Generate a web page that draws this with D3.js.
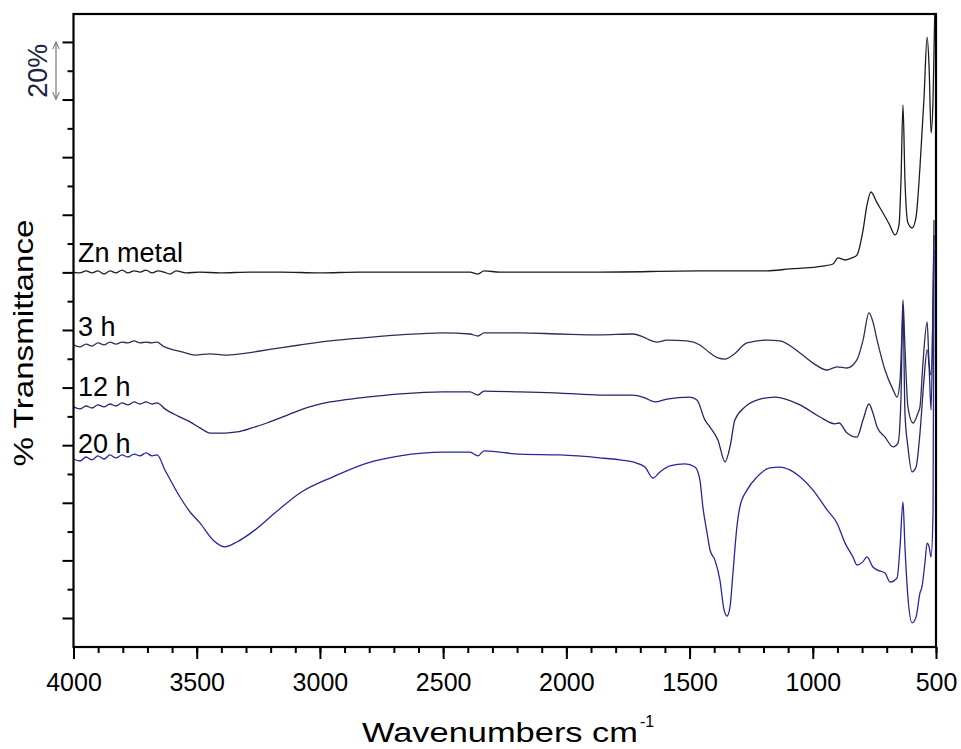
<!DOCTYPE html>
<html>
<head>
<meta charset="utf-8">
<script src="https://cdn.jsdelivr.net/npm/d3@7"></script>
<style>
  body { margin: 0; background: #fff; }
  text { font-family: "Liberation Sans", Arial, sans-serif; }
</style>
</head>
<body>
<svg></svg>
<script>
// FTIR spectra, offset % transmittance
let znWn = [4000,3974,3949,3925,3901,3876,3852,3828,3803,3779,3754,3730,3706,3681,3657,3633,3608,3584,3543,3487,
            3406,3284,3162,3000,2837,2675,2513,2391,2359,2334,2270,2107,1864,1458,1186,1093,983,918,898,869,
            841,821,796,780,764,739,715,690,666,650,642,634,626,614,597,581,565,549,536,528,520,512,504];
let znT = [120.1,119.8,120.5,119.8,120.5,119.4,120.5,119.8,120.8,119.8,120.5,120.1,120.8,119.8,120.5,120.1,119.4,120.5,119.8,120.1,
           119.8,120.1,120.1,119.8,120.1,120.1,120.1,120.1,119.4,120.5,120.1,120.1,120.1,120.5,120.5,121.2,121.9,122.9,125.0,124.3,
           125.0,126.0,134.7,143.4,147.9,144.1,140.6,136.8,133.0,136.5,152.1,178.1,152.1,137.2,135.4,139.2,156.6,179.9,201.7,191.3,168.4,179.9,214.6];

let h3Wn = [4000,3974,3949,3925,3901,3876,3852,3828,3803,3779,3754,3730,3706,3681,3661,3637,3608,3576,3543,3507,
            3446,3385,3324,3243,3162,3081,2959,2837,2675,2501,2391,2359,2334,2188,2026,1864,1730,1689,1653,1632,
            1592,1511,1458,1417,1385,1356,1324,1267,1186,1133,1052,999,942,902,861,821,796,772,756,739,
            707,674,658,646,638,634,626,614,593,573,565,553,536,528,520,512,508];
let h3T = [94.8,94.1,95.1,94.4,95.5,94.8,95.8,95.1,95.8,95.5,96.2,95.5,95.8,95.5,95.8,94.4,93.4,92.7,92.0,91.3,
           91.7,91.3,91.7,92.7,93.8,94.8,96.2,97.2,98.3,99.0,98.6,97.9,99.0,99.0,98.6,98.3,98.6,97.6,96.2,95.8,
           96.5,96.2,94.8,92.0,90.3,89.9,91.3,95.5,96.5,96.2,92.0,88.5,86.1,87.2,86.8,89.6,96.5,105.9,102.8,96.5,
           86.1,79.2,76.7,82.6,100.0,110.4,94.1,73.3,67.7,71.2,73.3,88.5,102.8,88.5,84.4,110.4,138.2];

let h12Wn = [4000,3974,3949,3925,3901,3876,3852,3828,3803,3779,3754,3730,3706,3681,3661,3629,3576,3527,3487,3446,
             3385,3337,3276,3215,3142,3081,2959,2837,2675,2501,2391,2359,2334,2188,2026,1864,1730,1681,1640,1592,
             1499,1470,1438,1417,1385,1356,1336,1316,1275,1214,1153,1052,971,910,893,861,821,796,772,756,
             739,707,674,654,642,634,626,614,597,581,565,549,536,528,520,512,508];
let h12T = [73.3,72.6,73.6,72.9,74.0,73.3,74.3,73.6,74.7,74.0,75.0,74.3,75.0,74.3,74.7,72.6,70.1,68.1,66.0,64.2,
            64.2,64.6,66.0,67.7,70.1,72.2,75.0,76.4,77.8,78.5,78.5,77.4,78.8,78.5,78.1,77.4,77.4,76.4,75.0,76.0,
            76.7,75.7,68.8,66.3,61.8,54.2,59.4,68.8,73.3,76.0,76.7,74.0,69.8,67.4,67.7,64.2,62.8,68.8,74.3,71.2,
            66.3,62.8,59.4,60.8,76.7,108.7,71.2,59.4,50.7,52.4,64.2,82.6,93.1,87.2,72.2,110.4,133.0];

let h20Wn = [4000,3974,3949,3925,3901,3876,3852,3828,3803,3779,3754,3730,3706,3681,3661,3629,3568,3527,3487,3434,
             3385,3337,3263,3182,3081,2947,2809,2675,2501,2391,2359,2334,2188,2026,1864,1782,1730,1681,1649,1620,
             1580,1519,1478,1458,1446,1429,1417,1397,1377,1360,1348,1336,1324,1308,1296,1267,1226,1174,1133,1093,
             1052,999,942,902,869,837,821,798,780,756,739,707,686,658,646,634,626,614,597,581,
             565,557,545,536,528,520,512,508];
let h20T = [55.2,54.5,55.9,54.9,56.3,55.2,56.6,55.6,56.6,55.9,56.9,56.3,57.3,56.3,56.6,51.4,42.0,36.8,33.0,27.1,
            24.7,26.4,30.6,36.5,43.4,49.0,53.8,56.3,57.6,57.6,56.3,58.0,56.9,56.6,55.6,54.9,54.2,52.4,48.6,50.7,
            52.8,53.5,52.4,47.9,38.5,29.5,23.6,20.1,13.2,2.8,0.7,3.8,15.6,31.6,38.5,44.4,49.0,52.1,52.4,51.4,
            49.0,44.4,37.5,33.0,26.0,21.2,18.4,19.4,21.2,17.7,16.7,15.6,12.5,13.9,24.7,40.3,24.7,7.3,-1.7,0.3,
            8.7,10.8,19.1,26.0,24.7,21.2,36.5,127.8];

let seriesNames = ['Zn metal', '3 h', '12 h', '20 h'];
let labelT = [123.6, 97.9, 77.1, 57.3];
let xTickValues = [4000, 3500, 3000, 2500, 2000, 1500, 1000, 500];
let yMajorTicks = [0, 20, 40, 60, 80, 100, 120, 140, 160, 180, 200];
let yMinorTicks = [10, 30, 50, 70, 90, 110, 130, 150, 170, 190];

let colors = ['#1c1c1c', '#2e2e58', '#25256e', '#2626a0'];

let svgWidth = 961,
    svgHeight = 749;

let plotLeft = 73.5, plotRight = 936, plotTop = 14, plotBottom = 647;

let svg = d3.select('svg')
            .attr('width', svgWidth)
            .attr('height', svgHeight);

let x = d3.scaleLinear().domain([4000, 500]).range([plotLeft, plotRight]);
let y = d3.scaleLinear().domain([-10.07, 209.7]).range([plotBottom, plotTop]);

svg.append('clipPath').attr('id', 'plot-clip')
   .append('rect')
   .attr('x', plotLeft).attr('y', plotTop)
   .attr('width', plotRight - plotLeft).attr('height', plotBottom - plotTop);

// spectra
let series = [
  { wn: znWn, t: znT },
  { wn: h3Wn, t: h3T },
  { wn: h12Wn, t: h12T },
  { wn: h20Wn, t: h20T }
];

let line = d3.line()
             .x(d => x(d[0]))
             .y(d => y(d[1]))
             .curve(d3.curveMonotoneX);

series.forEach((s, i) => {
  svg.append('path')
     .datum(s.wn.map((w, k) => [w, s.t[k]]))
     .attr('clip-path', 'url(#plot-clip)')
     .attr('fill', 'none')
     .attr('stroke', colors[i])
     .attr('stroke-width', 1.3)
     .attr('d', line);
});

// axes
let xAxis = d3.axisBottom(x)
              .tickValues(xTickValues)
              .tickSize(12)
              .tickPadding(14)
              .tickSizeOuter(0)
              .tickFormat(d3.format('d'));

let xMinor = d3.axisBottom(x)
               .tickValues(d3.range(4000, 499, -100))
               .tickSize(6)
               .tickSizeOuter(0)
               .tickFormat('');

let yAxis = d3.axisLeft(y).tickValues(yMajorTicks).tickSize(11).tickSizeOuter(0).tickFormat('');
let yMinor = d3.axisLeft(y).tickValues(yMinorTicks).tickSize(6).tickSizeOuter(0).tickFormat('');

let gx = svg.append('g').attr('transform', `translate(0,${plotBottom})`).call(xMinor);
let gx2 = svg.append('g').attr('transform', `translate(0,${plotBottom})`).call(xAxis);
let gy = svg.append('g').attr('transform', `translate(${plotLeft},0)`).call(yMinor);
let gy2 = svg.append('g').attr('transform', `translate(${plotLeft},0)`).call(yAxis);

[gx, gx2, gy, gy2].forEach(g => {
  g.select('.domain').remove();
  g.selectAll('.tick line').attr('stroke', '#000').attr('stroke-width', 2);
});

gx2.selectAll('.tick text')
   .attr('fill', '#000')
   .style('font-size', '25px')
   .style('font-family', '"Liberation Sans", Arial, sans-serif');

// frame
svg.append('rect')
   .attr('x', plotLeft).attr('y', plotTop)
   .attr('width', plotRight - plotLeft).attr('height', plotBottom - plotTop)
   .attr('fill', 'none')
   .attr('stroke', '#000')
   .attr('stroke-width', 2.2);

// series labels
seriesNames.forEach((name, i) => {
  svg.append('text')
     .attr('x', x(4000) + 4.5)
     .attr('y', y(labelT[i]))
     .attr('fill', '#000')
     .style('font-size', '27px')
     .text(name);
});

// axis titles
svg.append('text')
   .attr('x', 362)
   .attr('y', 742)
   .attr('textLength', 276)
   .attr('lengthAdjust', 'spacingAndGlyphs')
   .attr('fill', '#000')
   .style('font-size', '27px')
   .text('Wavenumbers cm');

svg.append('text')
   .attr('x', 640)
   .attr('y', 727)
   .attr('fill', '#000')
   .style('font-size', '16px')
   .text('-1');

svg.append('text')
   .attr('transform', 'translate(33,343) rotate(-90)')
   .attr('text-anchor', 'middle')
   .attr('textLength', 247)
   .attr('lengthAdjust', 'spacingAndGlyphs')
   .attr('fill', '#000')
   .style('font-size', '28px')
   .text('% Transmittance');

// 20 % scale marker
svg.append('defs').html(
  '<marker id="arr" viewBox="0 0 10 10" refX="9" refY="5" markerWidth="7" markerHeight="9" orient="auto-start-reverse">' +
  '<path d="M0,1 L9,5 L0,9" fill="none" stroke="#777" stroke-width="1.2"/></marker>');

svg.append('line')
   .attr('x1', 56).attr('x2', 56)
   .attr('y1', y(200)).attr('y2', y(180))
   .attr('stroke', '#777')
   .attr('stroke-width', 1.2)
   .attr('marker-start', 'url(#arr)')
   .attr('marker-end', 'url(#arr)');

svg.append('text')
   .attr('transform', `translate(47,${y(190)}) rotate(-90)`)
   .attr('text-anchor', 'middle')
   .attr('fill', '#1b2340')
   .style('font-size', '27px')
   .text('20%');
</script>
</body>
</html>
